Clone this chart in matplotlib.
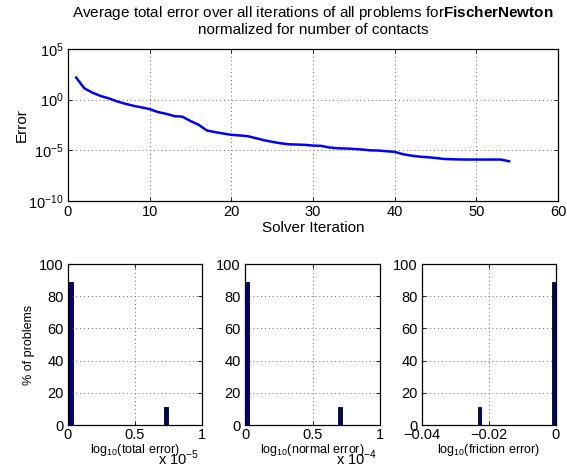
import numpy as np
import matplotlib
matplotlib.use("Agg")
import matplotlib.pyplot as plt
from matplotlib.ticker import FuncFormatter, NullLocator

plt.rcParams['font.family'] = ['Liberation Sans', 'DejaVu Sans']
plt.rcParams['mathtext.fontset'] = 'custom'
plt.rcParams['mathtext.rm'] = 'Liberation Sans'
plt.rcParams['mathtext.bf'] = 'Liberation Sans:bold'

# ---- data ----
iterations = list(range(1, 55))
log10_error = [2.18, 1.12, 0.69, 0.36, 0.13, -0.17, -0.40, -0.60, -0.76, -0.93,
               -1.22, -1.39, -1.62, -1.68, -2.11, -2.48, -3.04, -3.20, -3.34, -3.47,
               -3.53, -3.60, -3.80, -4.00, -4.16, -4.30, -4.40, -4.43, -4.46, -4.53,
               -4.56, -4.72, -4.79, -4.82, -4.86, -4.92, -5.00, -5.02, -5.09, -5.15,
               -5.38, -5.52, -5.62, -5.68, -5.75, -5.85, -5.88, -5.90, -5.91, -5.91,
               -5.91, -5.91, -5.91, -6.08]
error = [10 ** v for v in log10_error]

total_centers = [0.017e-5, 0.730e-5]
total_heights = [88.9, 11.1]
normal_centers = [0.016e-4, 0.701e-4]
normal_heights = [88.9, 11.1]
friction_centers = [-0.0228, -0.0006]
friction_heights = [11.1, 88.9]
total_width = 0.034e-5
normal_width = 0.031e-4
friction_width = 0.0011

W, H = 567, 469
fig = plt.figure(figsize=(W / 100, H / 100), dpi=100)

def frac(l, t, r, b):
    return [l / W, 1 - b / H, (r - l) / W, (b - t) / H]

GRID = dict(linestyle=(0, (1, 3)), color='#666666', linewidth=0.7)

def style(ax, fs):
    ax.tick_params(direction='in', length=3, width=0.6, labelsize=fs, top=True, right=True, pad=3)
    for s in ax.spines.values():
        s.set_linewidth(0.9)
    ax.grid(True, **GRID)

# ---- top plot ----
ax = fig.add_axes(frac(68, 49, 558, 201))
ax.plot(iterations, error, color='#0000ff', lw=1.8)
ax.set_yscale('log')
ax.set_xlim(0, 60)
ax.set_ylim(1e-10, 1e5)
ax.set_yticks([1e-10, 1e-5, 1e0, 1e5])
ax.yaxis.set_minor_locator(NullLocator())
ax.set_xticks([0, 10, 20, 30, 40, 50, 60])
style(ax, 10.5)
ax.set_xlabel('Solver Iteration', fontsize=11, labelpad=1)
ax.set_ylabel('Error', fontsize=11, labelpad=0)
ax.set_title('Average total error over all iterations of all problems for$\\bf{FischerNewton}$\nnormalized for number of contacts',
             fontsize=11, pad=11, linespacing=1.05)

# ---- histograms ----
def hist_ax(rect, centers, heights, width, xlim, xticks, fmt, xlabel, offset):
    a = fig.add_axes(frac(*rect))
    a.bar(centers, heights, width=width, color='#000080', edgecolor='black', linewidth=0.6)
    a.set_xlim(*xlim)
    a.set_ylim(0, 100)
    a.set_xticks(xticks)
    a.set_yticks([0, 20, 40, 60, 80, 100])
    a.xaxis.set_major_formatter(FuncFormatter(fmt))
    style(a, 10.5)
    a.tick_params(axis='x', pad=2)
    a.set_xlabel(xlabel, fontsize=9, labelpad=0)
    if offset:
        a.text(0.98, -0.15, offset, transform=a.transAxes, ha='right', va='top', fontsize=10.5)
    return a

a1 = hist_ax((68, 264, 202, 425), total_centers, total_heights, total_width, (0, 1e-5), [0, 0.5e-5, 1e-5],
             lambda v, p: '%g' % round(v / 1e-5, 3), 'log$_{10}$(total error)', 'x 10$^{-5}$')
a1.set_ylabel('% of problems', fontsize=9, labelpad=3)
a2 = hist_ax((245, 264, 380, 425), normal_centers, normal_heights, normal_width, (0, 1e-4), [0, 0.5e-4, 1e-4],
             lambda v, p: '%g' % round(v / 1e-4, 3), 'log$_{10}$(normal error)', 'x 10$^{-4}$')
a3 = hist_ax((422, 264, 556, 425), friction_centers, friction_heights, friction_width, (-0.04, 0), [-0.04, -0.02, 0],
             lambda v, p: ('%g' % round(v, 4)).replace('-', '\u2212'), 'log$_{10}$(friction error)', None)

fig.savefig('out.png', dpi=100)
